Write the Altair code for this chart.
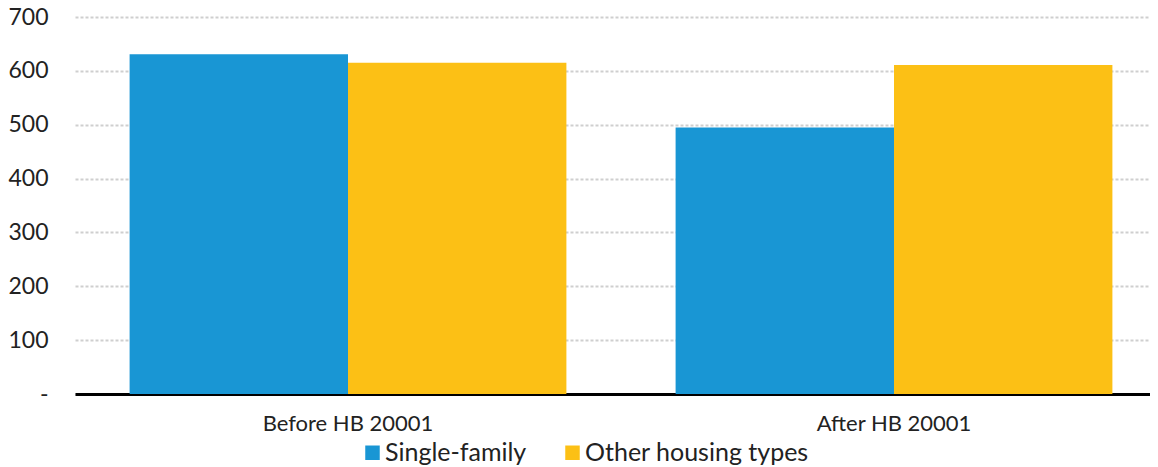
import altair as alt
import pandas as pd

periods = ["Before HB 20001", "After HB 20001"]
series = ["Single-family", "Other housing types"]
single_family = [631, 495]
other_types = [615, 611]
y_ticks = [0, 100, 200, 300, 400, 500, 600, 700]
colors = ["#1996d4", "#fcc015"]

rows = []
for i, p in enumerate(periods):
    rows.append({"period": p, "series": series[0], "value": single_family[i]})
    rows.append({"period": p, "series": series[1], "value": other_types[i]})
df = pd.DataFrame(rows)

FONT = "Lato"

chart = alt.Chart(df).mark_bar().encode(
    x=alt.X("period:N", sort=periods, title=None,
            scale=alt.Scale(paddingInner=0.2, paddingOuter=0.1, range=[0, 1092]),
            axis=alt.Axis(labelAngle=0, labelFont=FONT, labelFontSize=22,
                          labelColor="#222222", labelPadding=19, ticks=False,
                          domainColor="#000000", domainWidth=3, grid=False)),
    xOffset=alt.XOffset("series:N", sort=series),
    y=alt.Y("value:Q", title=None,
            scale=alt.Scale(domain=[0, 700], nice=False),
            axis=alt.Axis(values=y_ticks, labelFont=FONT, labelFontSize=23,
                          labelColor="#222222", labelPadding=27, ticks=False,
                          domain=False, grid=True, gridColor="#cfcfcf",
                          gridDash=[3, 2], gridWidth=2,
                          labelExpr="datum.value == 0 ? '-' : datum.label")),
    color=alt.Color("series:N", sort=series,
                    scale=alt.Scale(domain=series, range=colors),
                    legend=alt.Legend(title=None, orient="none", direction="horizontal",
                                      legendX=285, legendY=423,
                                      symbolType="square", symbolSize=210,
                                      symbolStrokeWidth=0, symbolOpacity=1,
                                      labelFont=FONT, labelFontSize=25, labelLimit=400,
                                      labelColor="#222222", labelOffset=0,
                                      columnPadding=33)),
).properties(
    width=1075, height=377,
    autosize=alt.AutoSizeParams(type="none"),
    padding={"left": 67, "top": 9, "right": 0, "bottom": 72},
).configure_view(stroke=None)

chart.save("out.html", embed_options={"renderer": "svg", "actions": False})
